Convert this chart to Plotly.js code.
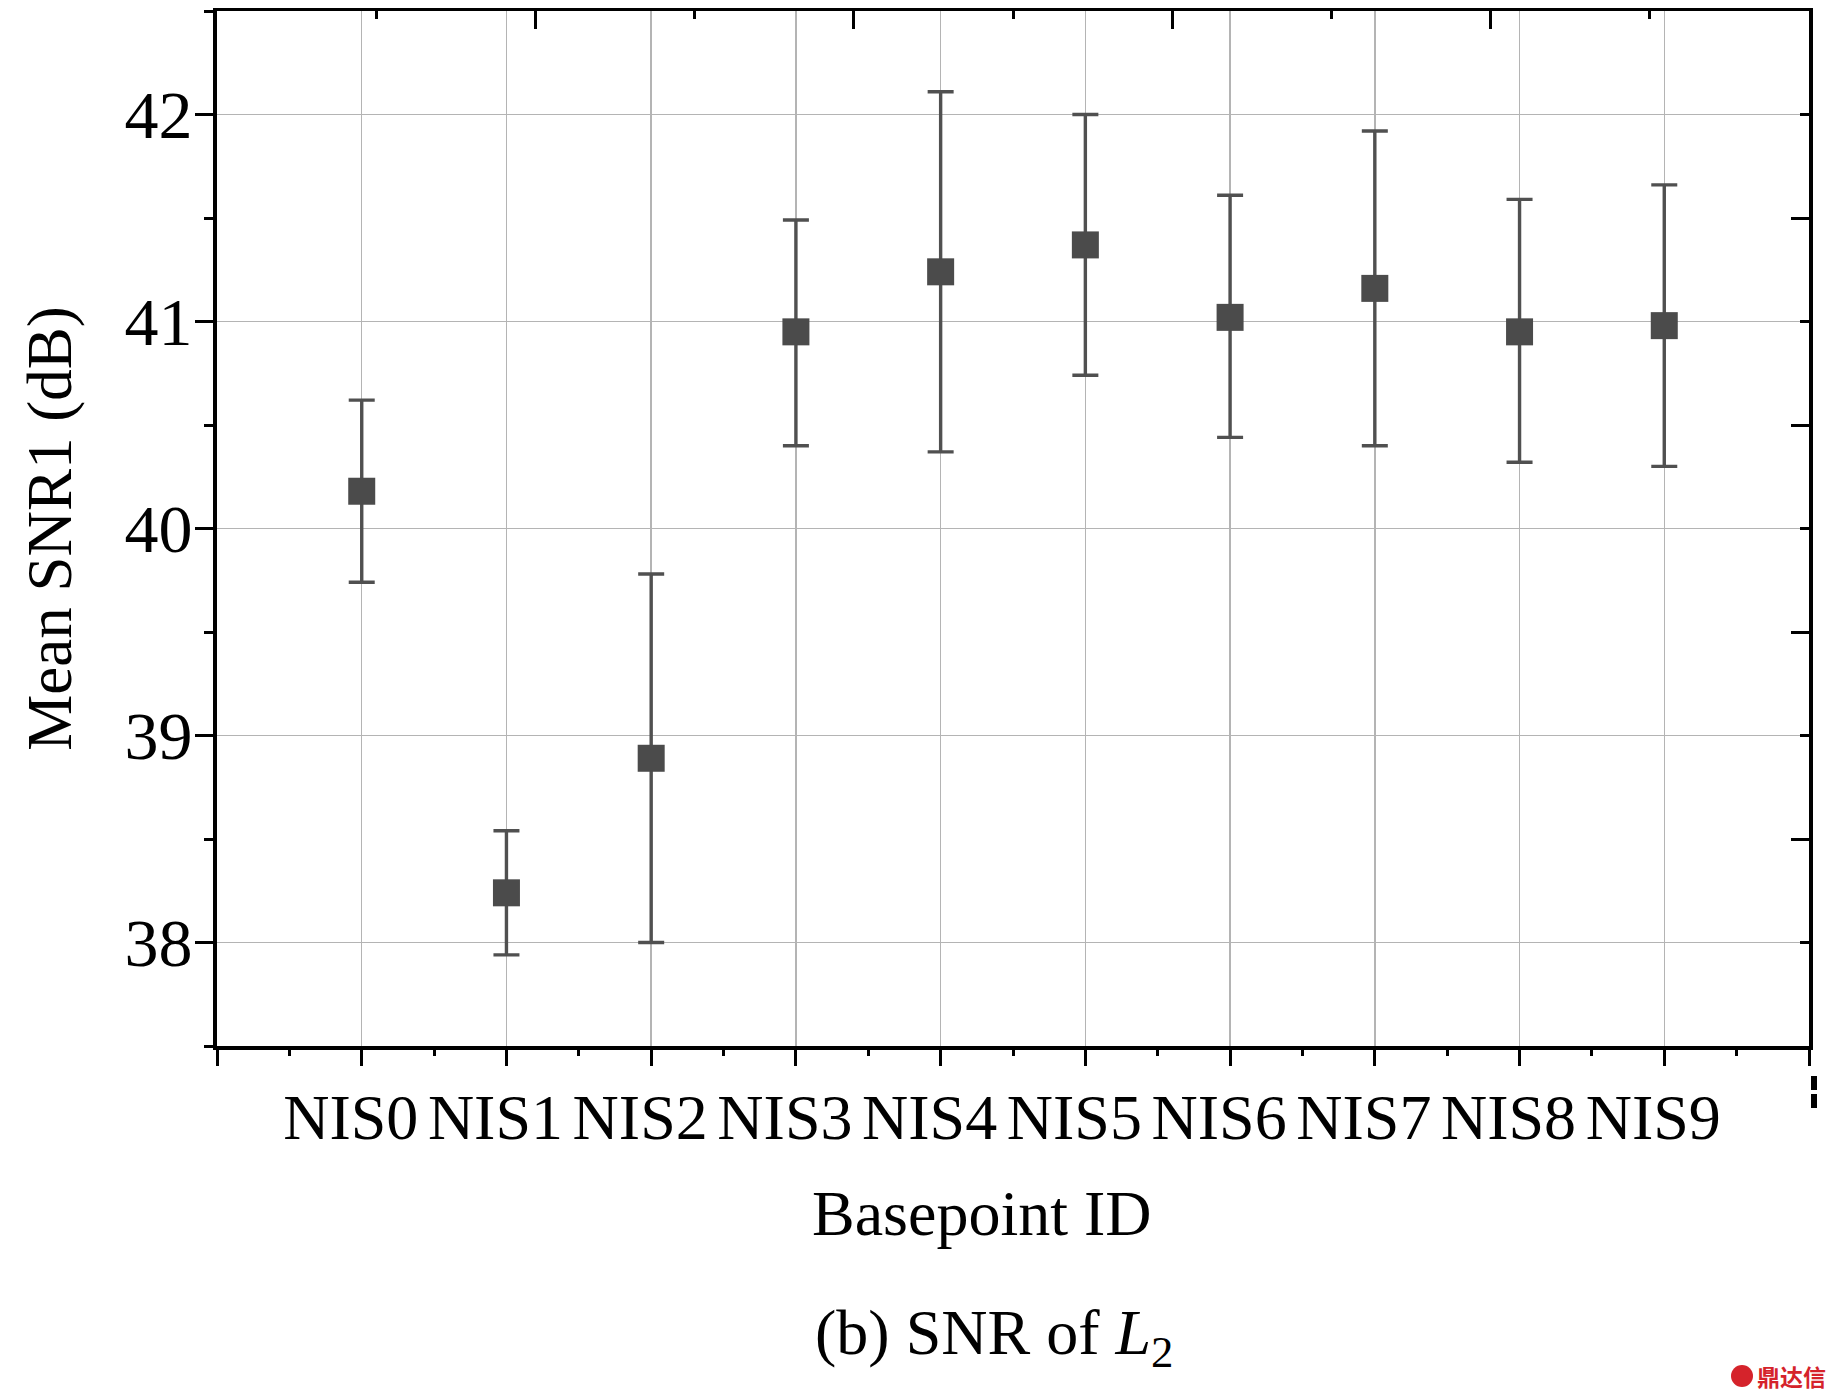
<!DOCTYPE html>
<html>
<head>
<meta charset="utf-8">
<script src="https://cdn.plot.ly/plotly-3.0.1.min.js"></script>
<style>html,body{margin:0;padding:0;background:#fff;}#chart{width:1836px;height:1400px;}</style>
</head>
<body>
<div id="chart"></div>
<script>
// ---- data ----
const categories = ["NIS0","NIS1","NIS2","NIS3","NIS4","NIS5","NIS6","NIS7","NIS8","NIS9"];
const positions  = [1,2,3,4,5,6,7,8,9,10];
const meanSNR    = [40.18, 38.24, 38.89, 40.95, 41.24, 41.37, 41.02, 41.16, 40.95, 40.98];
const upperSNR   = [40.62, 38.54, 39.78, 41.49, 42.11, 42.00, 41.61, 41.92, 41.59, 41.66];
const lowerSNR   = [39.74, 37.94, 38.00, 40.40, 40.37, 40.74, 40.44, 40.40, 40.32, 40.30];

const plusErr  = upperSNR.map((u, i) => +(u - meanSNR[i]).toFixed(3));
const minusErr = lowerSNR.map((l, i) => +(meanSNR[i] - l).toFixed(3));

const serif = "Liberation Serif, Times New Roman, serif";
const M = {l: 217, r: 27, t: 11, b: 354};
const W = 1836, H = 1400;
const pw = W - M.l - M.r, ph = H - M.t - M.b;
const px2x = p => (p - M.l) / pw;
const py2y = p => (H - M.b - p) / ph;

const traces = [
  {
    type: "scatter", mode: "markers",
    x: positions, y: meanSNR,
    marker: {symbol: "square", size: 27, color: "#4b4b4b"},
    error_y: {type: "data", symmetric: false, array: plusErr, arrayminus: minusErr,
              color: "#505050", thickness: 3.4, width: 13},
    showlegend: false, hoverinfo: "x+y"
  },
  { type: "scatter", mode: "markers", x: [], y: [], xaxis: "x2", yaxis: "y2",
    showlegend: false, hoverinfo: "skip" },
  { type: "scatter", mode: "markers", x: [], y: [], xaxis: "x3", yaxis: "y",
    showlegend: false, hoverinfo: "skip" }
];

const tickStyle = {tickwidth: 3, tickcolor: "#000"};

const layout = {
  width: W, height: H,
  margin: M,
  paper_bgcolor: "#fff", plot_bgcolor: "#fff",
  font: {family: serif, color: "#000"},
  xaxis: {
    range: [0, 11], tickmode: "array", tickvals: positions, ticktext: categories,
    ticks: "",
    showline: true, linecolor: "#000", linewidth: 4, mirror: false,
    showgrid: true, gridcolor: "#b4b4b4", gridwidth: 1.5, zeroline: false,
    tickfont: {family: serif, size: 64, color: "#000"},
    ticklabelshift: -11, ticklabelstandoff: 12,
    automargin: false, fixedrange: true
  },
  xaxis3: {
    overlaying: "x", side: "bottom", anchor: "y", range: [0, 11], tick0: 0, dtick: 1,
    ticks: "outside", ticklen: 19, ...tickStyle,
    minor: {dtick: 0.5, tick0: 0, ticks: "outside", ticklen: 9, ...tickStyle, showgrid: false},
    showline: false, showticklabels: false, showgrid: false, zeroline: false, fixedrange: true
  },
  yaxis: {
    range: [37.5, 42.5], tick0: 38, dtick: 1,
    ticks: "outside", ticklen: 18, ...tickStyle,
    minor: {dtick: 0.5, tick0: 37.5, ticks: "outside", ticklen: 9, ...tickStyle, showgrid: false},
    showline: true, linecolor: "#000", linewidth: 4,
    showgrid: true, gridcolor: "#b4b4b4", gridwidth: 1.5, zeroline: false,
    tickfont: {family: serif, size: 68, color: "#000"},
    ticklabelstandoff: -11,
    title: {text: "Mean SNR1 (dB)", font: {family: serif, size: 63, color: "#000"}, standoff: 33},
    automargin: false, fixedrange: true
  },
  xaxis2: {
    overlaying: "x", side: "top", anchor: "y", range: [0, 5], dtick: 1, tick0: 0,
    ticks: "inside", ticklen: 18, ...tickStyle,
    minor: {dtick: 0.5, tick0: 0, ticks: "inside", ticklen: 8, ...tickStyle, showgrid: false},
    showline: true, linecolor: "#000", linewidth: 3.5,
    showticklabels: false, showgrid: false, zeroline: false, fixedrange: true
  },
  yaxis2: {
    overlaying: "y", side: "right", anchor: "x", range: [37.5, 42.5], tick0: 37.5, dtick: 1,
    ticks: "inside", ticklen: 18, ...tickStyle,
    minor: {dtick: 0.5, tick0: 37.5, ticks: "inside", ticklen: 9, ...tickStyle, showgrid: false},
    showline: true, linecolor: "#000", linewidth: 3.5,
    showticklabels: false, showgrid: false, zeroline: false, fixedrange: true
  },
  annotations: [
    {
      xref: "paper", yref: "paper", x: px2x(982), y: py2y(1213),
      xanchor: "center", yanchor: "middle", showarrow: false,
      text: "Basepoint ID",
      font: {family: serif, size: 64, color: "#000"}
    },
    {
      xref: "paper", yref: "paper", x: px2x(994), y: py2y(1337),
      xanchor: "center", yanchor: "middle", showarrow: false,
      text: "(b) SNR of <i>L</i><sub>2</sub>",
      font: {family: serif, size: 64, color: "#000"}
    },
    {
      xref: "paper", yref: "paper", x: px2x(1791), y: py2y(1376),
      xanchor: "center", yanchor: "middle", showarrow: false,
      text: "<b>鼎达信</b>",
      font: {family: "Noto Sans CJK SC", size: 23, color: "#d5232b"}
    }
  ],
  shapes: [
    {type: "circle", xref: "paper", yref: "paper",
     x0: px2x(1731), x1: px2x(1753), y0: py2y(1387), y1: py2y(1365),
     fillcolor: "#d5232b", line: {width: 0}},
    {type: "rect", xref: "paper", yref: "paper",
     x0: px2x(1811), x1: px2x(1817), y0: py2y(1090), y1: py2y(1076),
     fillcolor: "#000", line: {width: 0}},
    {type: "rect", xref: "paper", yref: "paper",
     x0: px2x(1811), x1: px2x(1817), y0: py2y(1108), y1: py2y(1094),
     fillcolor: "#000", line: {width: 0}}
  ]
};

Plotly.newPlot("chart", traces, layout, {displayModeBar: false, staticPlot: true});
</script>
</body>
</html>
